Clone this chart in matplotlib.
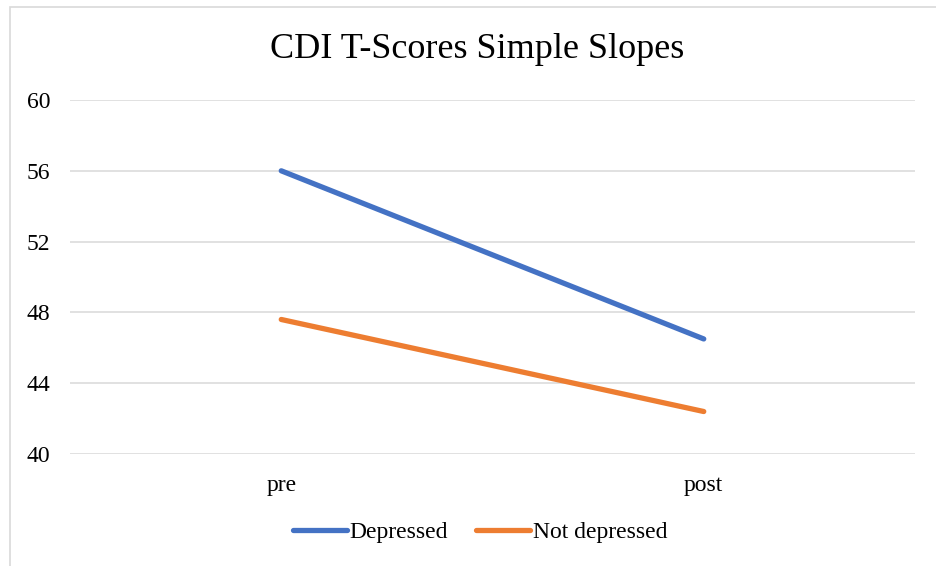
import matplotlib.pyplot as plt
from matplotlib.patches import Rectangle

phases = ['pre', 'post']
depressed = [56.0, 46.5]
not_depressed = [47.6, 42.4]
yticks = [40, 44, 48, 52, 56, 60]

W, H = 937, 566
plt.rcParams['font.family'] = ['Liberation Serif', 'DejaVu Serif']

fig = plt.figure(figsize=(W / 100, H / 100), dpi=100)
ax = fig.add_axes([70 / W, 1 - 454 / H, 845 / W, 354 / H])

# outer chart frame (cut off on the right and bottom like the screenshot)
fig.patches.append(Rectangle((10 / W, -0.05), 1.0, 1 - 7 / H + 0.05,
                             transform=fig.transFigure, fill=False,
                             edgecolor='#D9D9D9', linewidth=1.2))

x = [0.5, 1.5]
ax.plot(x, depressed, color='#4472C4', lw=3.8, solid_capstyle='round',
        label='Depressed')
ax.plot(x, not_depressed, color='#ED7D31', lw=3.8, solid_capstyle='round',
        label='Not depressed')

ax.set_xlim(0, 2)
ax.set_ylim(40, 60)
ax.set_yticks(yticks)
ax.set_xticks(x)
ax.set_xticklabels(phases)
ax.grid(axis='y', color='#D9D9D9', lw=1.1)
ax.set_axisbelow(True)
for s in ax.spines.values():
    s.set_visible(False)
ax.tick_params(length=0, labelsize=17)
ax.tick_params(axis='y', pad=14)
ax.tick_params(axis='x', pad=15)

fig.text(477 / W, 1 - 50 / H, 'CDI T-Scores Simple Slopes', ha='center',
         va='center', fontsize=26)

fig.legend(loc='center', bbox_to_anchor=(480 / W, 1 - 532 / H), ncol=2,
           frameon=False, fontsize=17, handlelength=2.3, handletextpad=0.1,
           columnspacing=1.2)

fig.savefig('out.png', dpi=100, facecolor='white')
